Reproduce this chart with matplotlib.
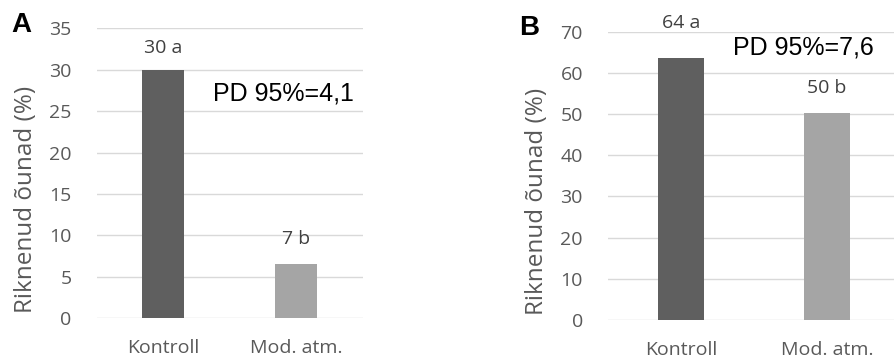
import matplotlib.pyplot as plt

categories = ["Kontroll", "Mod. atm."]
vals_a = [29.9, 6.6]
vals_b = [63.6, 50.2]
labels_a = ["30 a", "7 b"]
labels_b = ["64 a", "50 b"]
colors = ["#5f5f5f", "#a5a5a5"]

fig = plt.figure(figsize=(8.94, 3.59), dpi=100)
axA = fig.add_axes([0.108, 0.1134, 0.298, 0.808])
axB = fig.add_axes([0.680, 0.1086, 0.3266, 0.803])

font = "Open Sans"
tc = "#595959"


def setup(ax, vals, labels, ymax, step, offsets):
    ax.bar(range(2), vals, width=0.315, color=colors, zorder=3)
    ax.set_xlim(-0.5, 1.5)
    ax.set_ylim(0, ymax)
    ax.set_yticks(range(0, ymax + 1, step))
    ax.set_xticks(range(2))
    ax.set_xticklabels(categories, fontfamily=font, fontsize=14, color=tc)
    for t in ax.get_yticklabels():
        t.set_fontfamily(font)
        t.set_fontsize(14)
        t.set_color(tc)
    ax.tick_params(axis="both", length=0)
    ax.tick_params(axis="x", pad=15)
    ax.tick_params(axis="y", pad=18)
    ax.grid(axis="y", color="#d9d9d9", lw=1, zorder=0)
    for s in ax.spines.values():
        s.set_visible(False)
    ax.set_ylabel("Riknenud õunad (%)", fontfamily=font, fontsize=17.5, color=tc,
                  labelpad=8, y=0.41)
    for i, (v, lab) in enumerate(zip(vals, labels)):
        ax.annotate(lab, (i, v), xytext=(0, offsets[i]), textcoords="offset points",
                    ha="center", va="center", fontfamily=font, fontsize=14, color="#404040")


setup(axA, vals_a, labels_a, 35, 5, [16, 18])
setup(axB, vals_b, labels_b, 70, 10, [25, 18])

fig.text(0.2385, 1 - 93 / 359, "PD 95%=4,1", fontfamily="Liberation Sans", fontsize=18,
         ha="left", va="center")
fig.text(0.820, 1 - 47 / 359, "PD 95%=7,6", fontfamily="Liberation Sans", fontsize=18,
         ha="left", va="center")
fig.text(0.024, 1 - 25 / 359, "A", fontfamily="Liberation Sans", fontweight="bold",
         fontsize=20, ha="center", va="center")
fig.text(0.592, 1 - 28 / 359, "B", fontfamily="Liberation Sans", fontweight="bold",
         fontsize=20, ha="center", va="center")

fig.savefig("out.png", dpi=100)
